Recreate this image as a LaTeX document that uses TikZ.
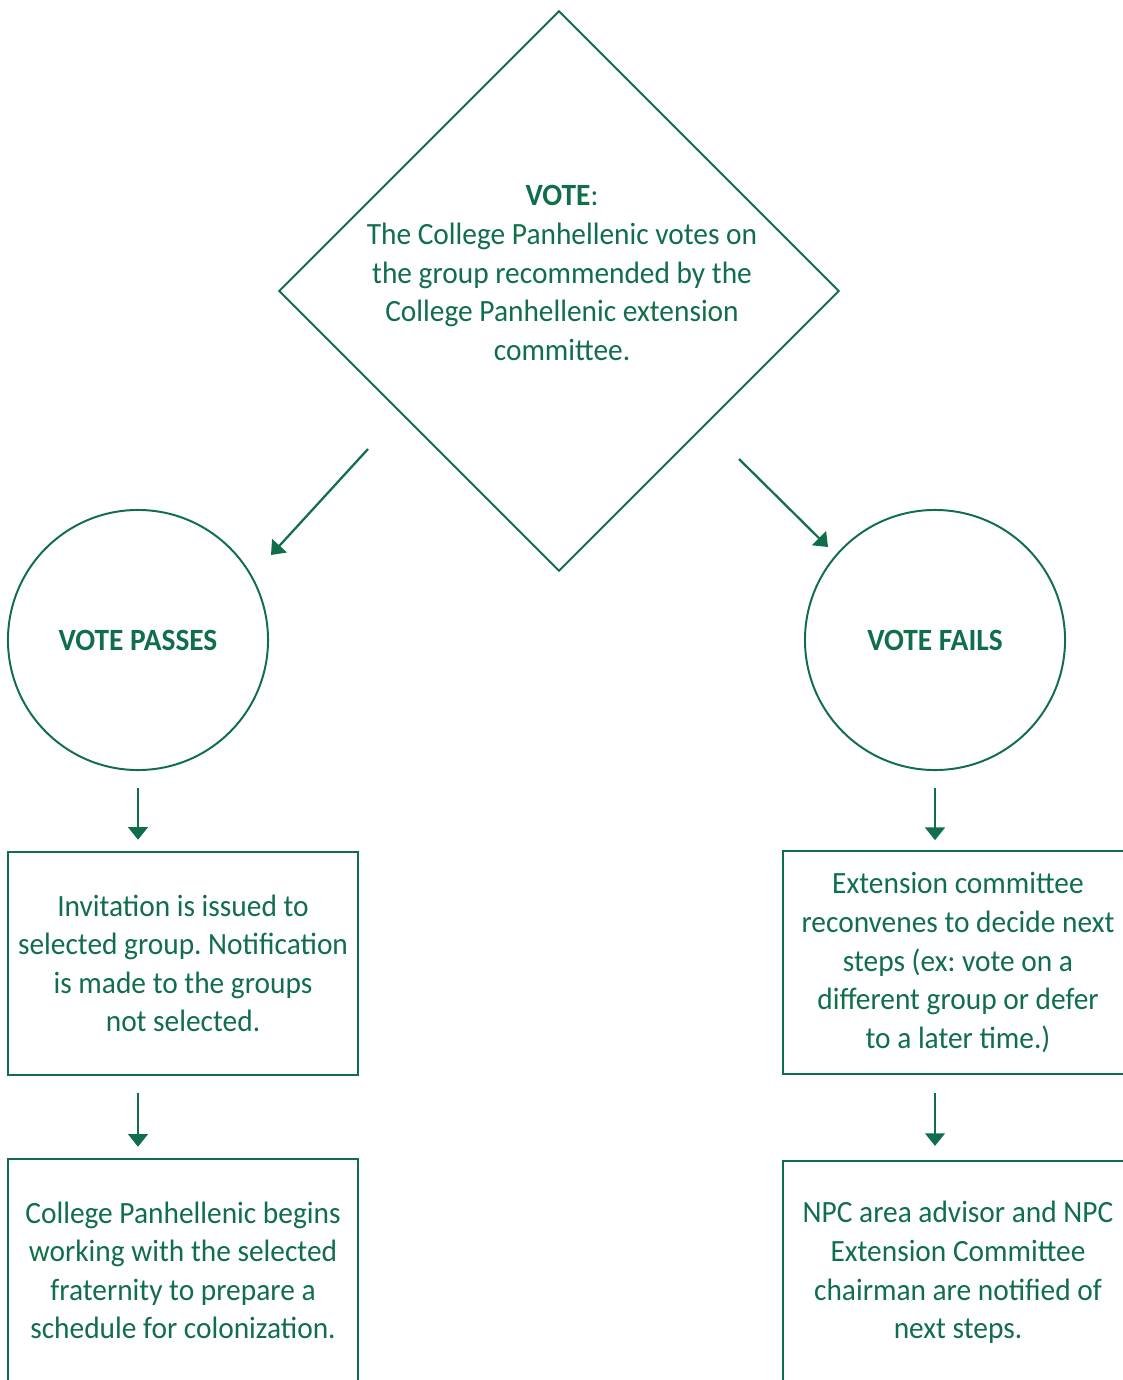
\documentclass[tikz,border=0pt]{standalone}
\usepackage{fontspec}
\setmainfont[FakeStretch=0.95]{Carlito}
\usetikzlibrary{shapes.geometric,arrows.meta}
\definecolor{npcgreen}{RGB}{16,110,75}
\frenchspacing

\begin{document}
\begin{tikzpicture}[x=0.025cm, y=-0.025cm,
     every node/.style={text=npcgreen, align=center, font=\fontsize{22}{27.4}\selectfont},
     box/.style={draw=npcgreen, line width=1.4pt, minimum width=8.75cm, minimum height=5.575cm},
     ring/.style={draw=npcgreen, line width=1.4pt, circle, minimum size=6.5cm},
     arr/.style={draw=npcgreen, line width=1.6pt, -{Triangle[width=14pt, length=9pt]}}]

     \useasboundingbox (0, 0) rectangle (1123, 1380);
     \clip (0, 0) rectangle (1123, 1380);

     \node (vote) at (559, 291) [draw=npcgreen, line width=1.4pt, diamond, minimum width=14cm, minimum height=14cm] {};
     \node (votetext) at (562, 273) {{\bfseries VOTE}:\\The College Panhellenic votes on\\the group recommended by the\\College Panhellenic extension\\committee.};

     \node (pass) at (138, 640) [ring] {\bfseries VOTE PASSES};
     \node (fail) at (935, 640) [ring] {\bfseries VOTE FAILS};

     \node (invite) at (183, 963.5) [box] {Invitation is issued to\\selected group. Notification\\is made to the groups\\not selected.};
     \node (begin) at (183, 1270.5) [box] {College Panhellenic begins\\working with the selected\\fraternity to prepare a\\schedule for colonization.};
     \node (reconvene) at (958, 962.5) [box] {Extension committee\\reconvenes to decide next\\steps (ex: vote on a\\different group or defer\\to a later time.)};
     \node (notify) at (958, 1272.5) [box] {NPC area advisor and NPC\\Extension Committee\\chairman are notified of\\next steps.};

     % the two diagonal arrows stand free of the diamond
     \coordinate (passfrom) at (368, 449);
     \coordinate (passto) at (271, 555);
     \coordinate (failfrom) at (739, 459);
     \coordinate (failto) at (828, 547);
     \draw [arr] (passfrom) -- (passto);
     \draw [arr] (failfrom) -- (failto);

     \draw [arr, shorten <=12pt, shorten >=8pt] (pass.south) -- (pass.south |- invite.north);
     \draw [arr, shorten <=12pt, shorten >=8pt] (pass.south |- invite.south) -- (pass.south |- begin.north);
     \draw [arr, shorten <=12pt, shorten >=7pt] (fail.south) -- (fail.south |- reconvene.north);
     \draw [arr, shorten <=13pt, shorten >=10pt] (fail.south |- reconvene.south) -- (fail.south |- notify.north);

\end{tikzpicture}
\end{document}
